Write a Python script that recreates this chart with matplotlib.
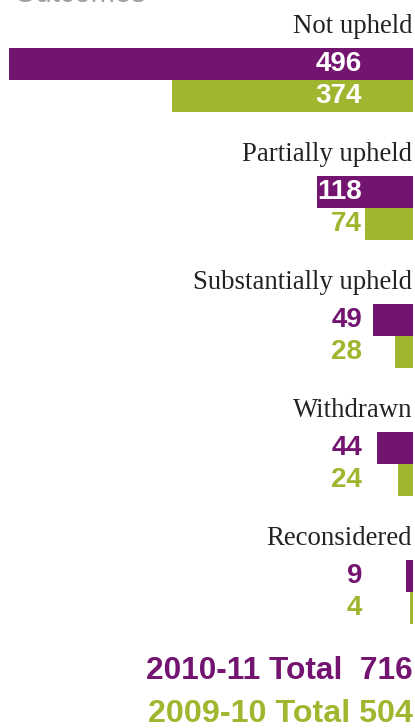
import matplotlib
matplotlib.use("Agg")
import matplotlib.pyplot as plt
import matplotlib.transforms as mtransforms
import numpy as np

# Data
categories = ["Not upheld", "Partially upheld", "Substantially upheld",
              "Withdrawn", "Reconsidered"]
values_2010_11 = [496, 118, 49, 44, 9]
values_2009_10 = [374, 74, 28, 24, 4]
total_2010_11 = 716
total_2009_10 = 504
title = "Outcomes"

purple = "#731470"
green = "#a2b52e"
label_dark = "#222222"

W, H = 415, 728
dpi = 100
fig = plt.figure(figsize=(W / dpi, H / dpi), dpi=dpi, facecolor="white")

right_px = 413
ax = fig.add_axes([0, 0, right_px / W, 1])
ax2 = ax.twiny()

# each series drawn on its own scale, bars grow leftwards from the right edge
ax.set_xlim(right_px / 0.815, 0)
ax2.set_xlim(right_px / 0.645, 0)
for a in (ax, ax2):
    a.set_ylim(5.1875, -0.5)
    a.axis("off")

y = np.arange(len(categories))
bh = 0.25
ax.barh(y, values_2010_11, height=bh, color=purple, align="center")
ax2.barh(y + bh, values_2009_10, height=bh, color=green, align="center")

# texts go on the top axes so the green bars don't hide them
trans = mtransforms.blended_transform_factory(ax2.transAxes, ax2.transData)
lab_x = 362 / right_px
for i, (cat, v1, v2) in enumerate(zip(categories, values_2010_11, values_2009_10)):
    ax2.text(1.0 - 1 / right_px, i - 0.29, cat, transform=trans, ha="right", va="center",
             fontsize=19.3, family="Liberation Serif", color=label_dark)
    # label sits inside the bar (white) when the bar reaches past it
    c1 = "white" if v1 * 0.815 > (right_px - 320) else purple
    c2 = "white" if v2 * 0.645 > (right_px - 320) else green
    ax2.text(lab_x, i, str(v1), transform=trans, ha="right", va="center",
             fontsize=20, fontweight="bold", family="Liberation Sans", color=c1)
    ax2.text(lab_x, i + bh, str(v2), transform=trans, ha="right", va="center",
             fontsize=20, fontweight="bold", family="Liberation Sans", color=c2)

fig.text(right_px / W, 1 - 671 / H, f"2010-11 Total  {total_2010_11}", ha="right",
         va="center", fontsize=22.8, fontweight="bold", family="Liberation Sans",
         color=purple)
fig.text(right_px / W, 1 - 714 / H, f"2009-10 Total {total_2009_10}", ha="right",
         va="center", fontsize=23.2, fontweight="bold", family="Liberation Sans",
         color=green)

# title mostly cut off by the top edge, as in the source
fig.text(14 / W, 1 - 1.5 / H, title, ha="left", va="baseline", fontsize=21,
         family="Liberation Sans", color="#a0a0a0")

fig.savefig("out.png", dpi=dpi, facecolor="white")
